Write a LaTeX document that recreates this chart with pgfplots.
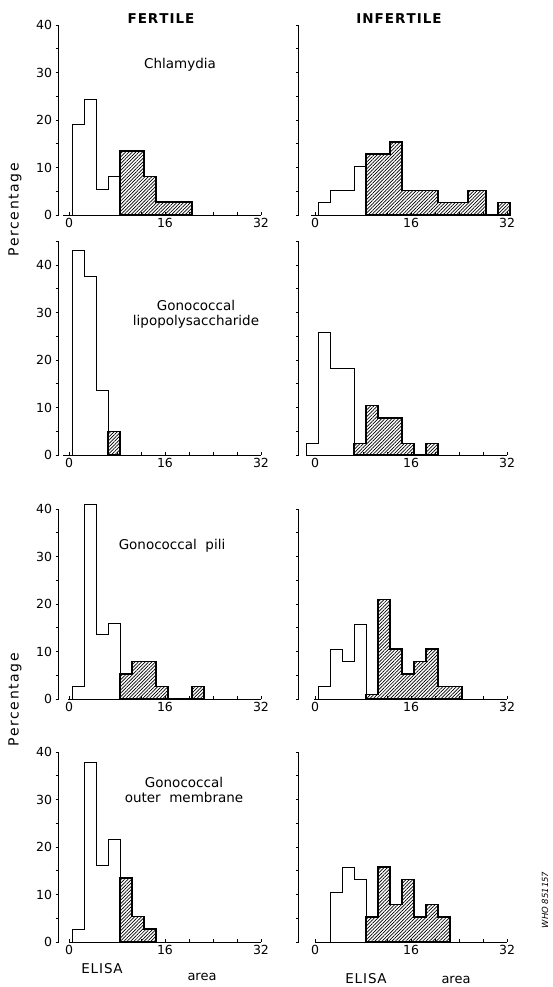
\documentclass[border=0pt]{standalone}
\usepackage{fontspec}
\setmainfont{DejaVu Sans}
\usepackage{pgfplots}
\pgfplotsset{compat=1.18}
\usetikzlibrary{patterns.meta}

% letter-spaced text: \spaced{gap}{WORD}
\newdimen\spk
\def\spacedx#1{\ifx#1\relax\else#1\kern\spk\expandafter\spacedx\fi}
\newcommand\spaced[2]{\spk=#1\relax\spacedx#2\relax\kern-\spk}

\pgfplotsset{
  hist/.style={
    scale only axis, clip=false,
    axis lines=left, axis line style={-, line width=0.8pt},
    x axis line style={draw=none},
    ymin=0, xmax=33,
    xtick={0,16,32}, minor xtick={4,8,12,20,24,28},
    xtick align=inside, ytick align=outside,
    major tick length=3pt, minor tick length=3pt,
    tick style={line width=0.7pt, black},
    /pgf/number format/assume math mode=true,
    tick label style={font=\fontsize{12.5}{12.5}\selectfont},
  },
  histL/.style={hist, xmin=-1.75, width=208.5pt},
  histR/.style={hist, xmin=-2.7, width=214.2pt, yticklabels={}},
  h40/.style={ymax=40, height=190pt},
  h45/.style={ymax=45, height=213.75pt},
  open/.style={const plot, line width=0.8pt, black, fill=white},
  hatch/.style={const plot, line width=1.4pt, black,
    pattern={Lines[angle=45,distance=2.4pt,line width=0.7pt]}},
}

\begin{document}
\begin{tikzpicture}[x=1pt,y=1pt]
\useasboundingbox (0,0) rectangle (552,987);

% ---- row 1: Chlamydia
\begin{axis}[histL, h40, at={(58.5pt,772pt)}, anchor=south west,
  ytick={0,10,20,30,40}, minor ytick={5,15,25,35}]
\addplot[open] coordinates {(0.5,19) (2.5,24.3) (4.5,5.4) (6.5,8.1) (8.5,0)} \closedcycle;
\addplot[hatch] coordinates {(8.5,13.5) (12.5,8.1) (14.5,2.7) (20.5,0)} \closedcycle;
\draw[line width=0.8pt] (axis cs:-1,0) -- (axis cs:32,0);
\end{axis}
\begin{axis}[histR, h40, at={(298.8pt,772pt)}, anchor=south west,
  ytick={0,5,...,40}]
\addplot[open] coordinates {(0.5,2.6) (2.5,5.1) (6.5,10.3) (8.5,0)} \closedcycle;
\addplot[hatch] coordinates {(8.5,12.8) (12.5,15.4) (14.5,5.1) (20.5,2.6)
  (25.5,5.1) (28.5,0) (30.5,2.6) (32.5,0)} \closedcycle;
\draw[line width=0.8pt] (axis cs:-0.7,0) -- (axis cs:32,0);
\end{axis}

% ---- row 2: lipopolysaccharide
\begin{axis}[histL, h45, at={(58.5pt,532pt)}, anchor=south west,
  ytick={0,10,20,30,40}, minor ytick={5,15,25,35,45}]
\addplot[open] coordinates {(0.5,43) (2.5,37.6) (4.5,13.5) (6.5,0)} \closedcycle;
\addplot[hatch] coordinates {(6.5,5) (8.5,0)} \closedcycle;
\draw[line width=0.8pt] (axis cs:-1,0) -- (axis cs:32,0);
\end{axis}
\begin{axis}[histR, h45, at={(298.8pt,532pt)}, anchor=south west,
  ytick={0,5,...,45}]
\addplot[open] coordinates {(-1.5,2.5) (0.5,25.9) (2.5,18.3) (6.5,0)} \closedcycle;
\addplot[hatch] coordinates {(6.5,2.4) (8.5,10.4) (10.5,7.8) (14.5,2.4)
  (16.5,0) (18.5,2.4) (20.5,0)} \closedcycle;
\draw[line width=0.8pt] (axis cs:-0.5,0) -- (axis cs:32,0);
\end{axis}

% ---- row 3: pili
\begin{axis}[histL, h40, at={(58.5pt,288pt)}, anchor=south west,
  ytick={0,10,20,30,40}, minor ytick={5,15,25,35}]
\addplot[open] coordinates {(0.5,2.6) (2.5,41) (4.5,13.6) (6.5,16) (8.5,0)} \closedcycle;
\addplot[hatch] coordinates {(8.5,5.3) (10.5,7.9) (14.5,2.6) (16.5,0)
  (20.5,2.6) (22.5,0)} \closedcycle;
\draw[line width=0.8pt] (axis cs:-0.2,0) -- (axis cs:32,0);
\end{axis}
\begin{axis}[histR, h40, at={(298.8pt,288pt)}, anchor=south west,
  ytick={0,5,...,40}]
\addplot[open] coordinates {(0.5,2.6) (2.5,10.5) (4.5,7.9) (6.5,15.8) (8.5,0)} \closedcycle;
\addplot[hatch] coordinates {(8.5,1) (10.5,21) (12.5,10.5) (14.5,5.3)
  (16.5,7.9) (18.5,10.5) (20.5,2.6) (24.5,0)} \closedcycle;
\draw[line width=0.8pt] (axis cs:-0.2,0) -- (axis cs:32,0);
\end{axis}

% ---- row 4: outer membrane
\begin{axis}[histL, h40, at={(58.5pt,45pt)}, anchor=south west,
  ytick={0,10,20,30,40}, minor ytick={5,15,25,35}]
\addplot[open] coordinates {(0.5,2.6) (2.5,37.8) (4.5,16.2) (6.5,21.6) (8.5,0)} \closedcycle;
\addplot[hatch] coordinates {(8.5,13.5) (10.5,5.4) (12.5,2.7) (14.5,0)} \closedcycle;
\draw[line width=0.8pt] (axis cs:0,0) -- (axis cs:32,0);
\end{axis}
\begin{axis}[histR, h40, at={(298.8pt,45pt)}, anchor=south west,
  ytick={0,5,...,40}]
\addplot[open] coordinates {(2.5,10.5) (4.5,15.8) (6.5,13.2) (8.5,0)} \closedcycle;
\addplot[hatch] coordinates {(8.5,5.3) (10.5,15.8) (12.5,7.9) (14.5,13.2)
  (16.5,5.3) (18.5,7.9) (20.5,5.3) (22.5,0)} \closedcycle;
\draw[line width=0.8pt] (axis cs:0,0) -- (axis cs:32,0);
\end{axis}

% ---- texts
\node[font=\bfseries\fontsize{13.5}{14}\selectfont] at (161,968) {\spaced{1pt}{FERTILE}};
\node[font=\bfseries\fontsize{13.5}{14}\selectfont] at (399,968) {\spaced{1pt}{INFERTILE}};
\begin{scope}[font=\fontsize{13.5}{15}\selectfont]
\node at (180,922) {Chlamydia};
\node[align=center] at (196,672.5) {Gonococcal\\lipopolysaccharide};
\node at (172,441) {Gonococcal\ \ pili};
\node[align=center] at (184,197.5) {Gonococcal\\outer\ \ membrane};
\end{scope}
\node[rotate=90, font=\fontsize{14}{14}\selectfont] at (15,777) {\spaced{1.6pt}{Percentage}};
\node[rotate=90, font=\fontsize{14}{14}\selectfont] at (15,287) {\spaced{1.6pt}{Percentage}};
\node[anchor=base, font=\fontsize{13.5}{13.5}\selectfont] at (102,13) {\spaced{0.9pt}{ELISA}};
\node[anchor=base, font=\fontsize{13}{13}\selectfont] at (202,6.5) {area};
\node[anchor=base, font=\fontsize{13.5}{13.5}\selectfont] at (366,4) {\spaced{0.9pt}{ELISA}};
\node[anchor=base, font=\fontsize{13}{13}\selectfont] at (456,3.5) {area};
\node[rotate=90, font=\itshape\fontsize{8.5}{9}\selectfont] at (545,87) {WHO 851157};
\end{tikzpicture}
\end{document}
